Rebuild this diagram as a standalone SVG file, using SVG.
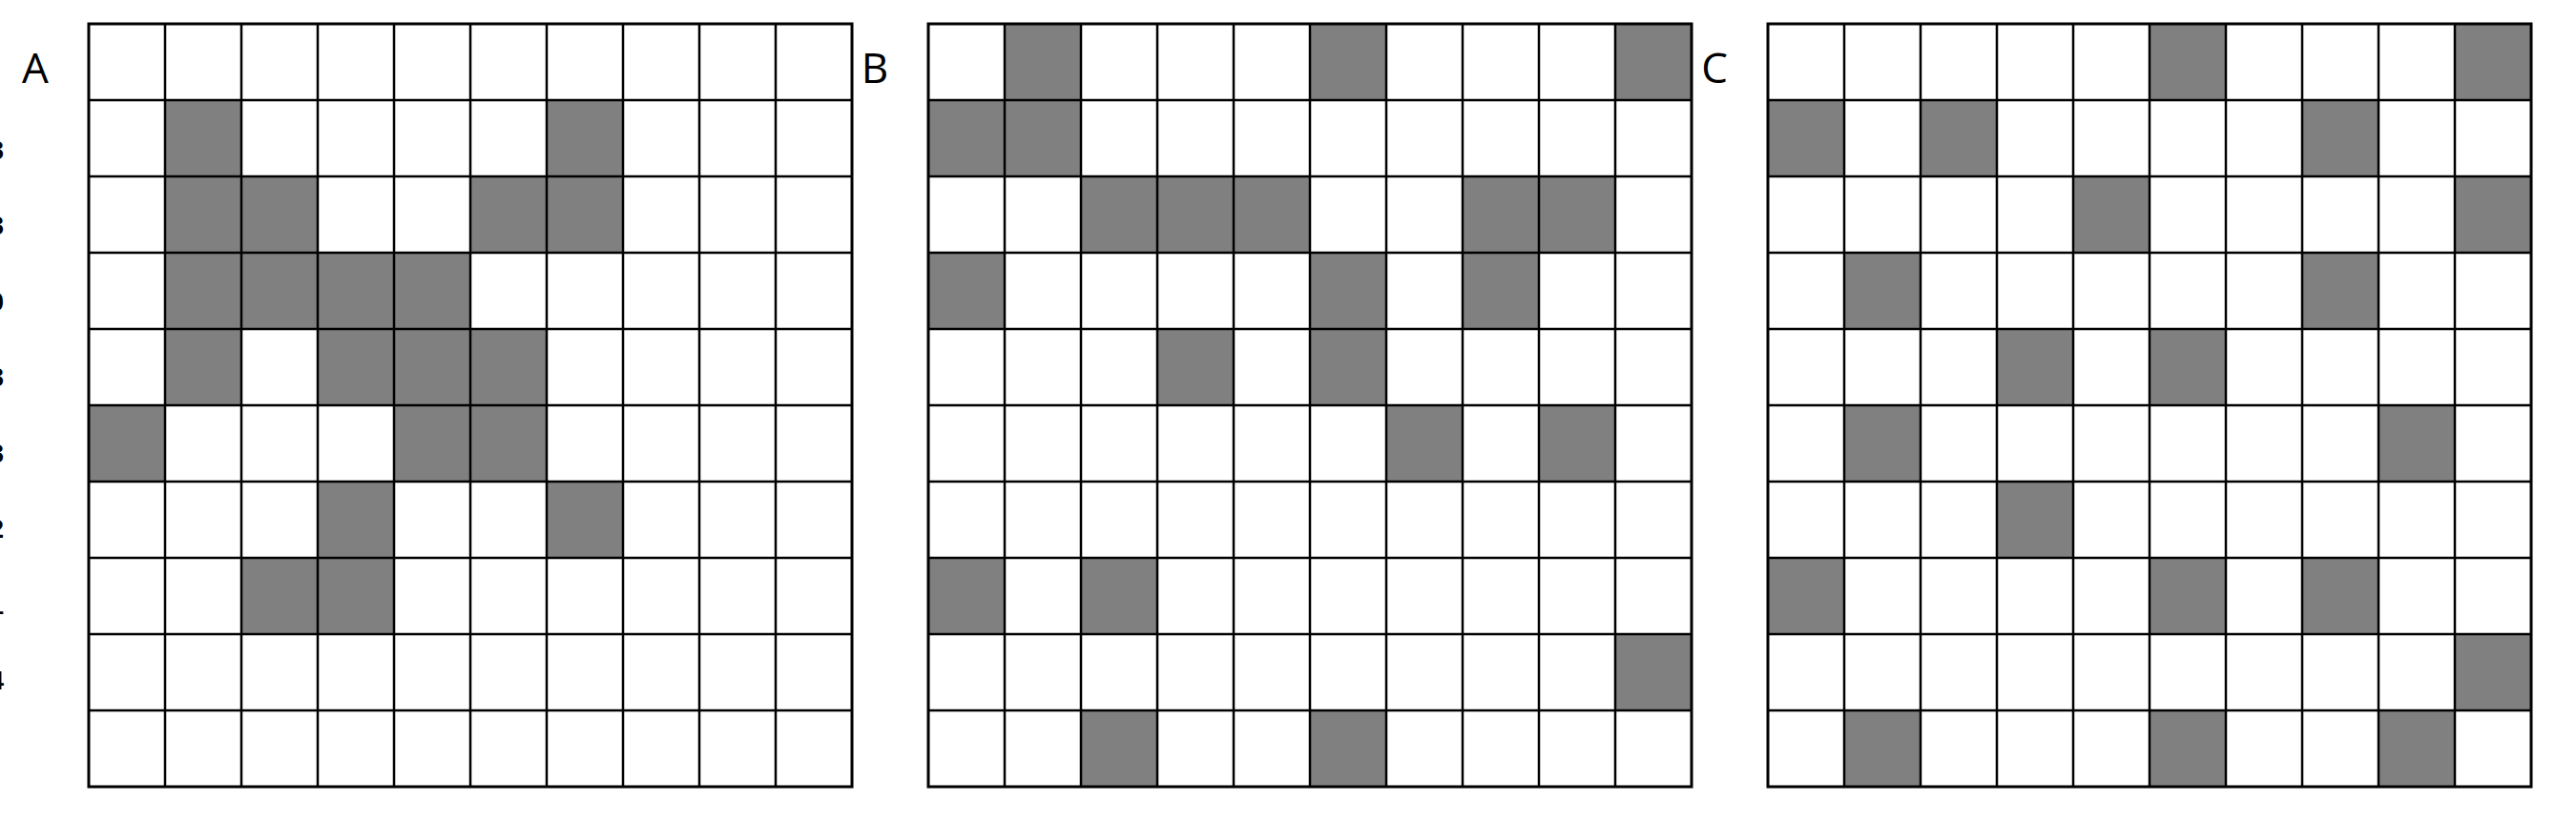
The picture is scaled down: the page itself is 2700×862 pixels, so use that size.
<svg xmlns="http://www.w3.org/2000/svg" width="2700" height="862" viewBox="0 0 2700 862">
<defs>
<style>
.bg{fill:#ffffff}
.on{fill:#808080}
.ln{stroke:#000;stroke-width:2.5;fill:none}
.frame{stroke:#000;stroke-width:3;fill:none}
.lbl{font-family:"Open Sans","Liberation Sans",sans-serif;font-size:44px;fill:#000}
.cut{font-family:"Liberation Sans","Open Sans",sans-serif;font-size:28px;font-weight:bold;fill:#000}
</style>
<path id="lines" class="ln" d="M80 0V800M160 0V800M240 0V800M320 0V800M400 0V800M480 0V800M560 0V800M640 0V800M720 0V800M0 80H800M0 160H800M0 240H800M0 320H800M0 400H800M0 480H800M0 560H800M0 640H800M0 720H800"/>
</defs>
<rect class="bg" x="0" y="0" width="2700" height="862"/>

<g id="cutoff-labels">
<text class="cut" x="4" y="167" text-anchor="end">3</text>
<text class="cut" x="4" y="246" text-anchor="end">3</text>
<text class="cut" x="4" y="326" text-anchor="end">0</text>
<text class="cut" x="4" y="405" text-anchor="end">3</text>
<text class="cut" x="4" y="485" text-anchor="end">3</text>
<text class="cut" x="4" y="564" text-anchor="end">2</text>
<text class="cut" x="4" y="644" text-anchor="end">1</text>
<text class="cut" x="4" y="723" text-anchor="end">4</text>
</g>

<g id="gridA">
<text class="lbl" x="37" y="87" text-anchor="middle">A</text>
<g transform="translate(93,25)">
<rect class="on" x="80" y="80" width="80" height="80"/>
<rect class="on" x="480" y="80" width="80" height="80"/>
<rect class="on" x="80" y="160" width="80" height="80"/>
<rect class="on" x="160" y="160" width="80" height="80"/>
<rect class="on" x="400" y="160" width="80" height="80"/>
<rect class="on" x="480" y="160" width="80" height="80"/>
<rect class="on" x="80" y="240" width="80" height="80"/>
<rect class="on" x="160" y="240" width="80" height="80"/>
<rect class="on" x="240" y="240" width="80" height="80"/>
<rect class="on" x="320" y="240" width="80" height="80"/>
<rect class="on" x="80" y="320" width="80" height="80"/>
<rect class="on" x="240" y="320" width="80" height="80"/>
<rect class="on" x="320" y="320" width="80" height="80"/>
<rect class="on" x="400" y="320" width="80" height="80"/>
<rect class="on" x="0" y="400" width="80" height="80"/>
<rect class="on" x="320" y="400" width="80" height="80"/>
<rect class="on" x="400" y="400" width="80" height="80"/>
<rect class="on" x="240" y="480" width="80" height="80"/>
<rect class="on" x="480" y="480" width="80" height="80"/>
<rect class="on" x="160" y="560" width="80" height="80"/>
<rect class="on" x="240" y="560" width="80" height="80"/>
<use href="#lines"/>
<rect class="frame" x="0" y="0" width="800" height="800"/>
</g>
</g>

<g id="gridB">
<text class="lbl" x="917" y="87" text-anchor="middle">B</text>
<g transform="translate(973,25)">
<rect class="on" x="80" y="0" width="80" height="80"/>
<rect class="on" x="400" y="0" width="80" height="80"/>
<rect class="on" x="720" y="0" width="80" height="80"/>
<rect class="on" x="0" y="80" width="80" height="80"/>
<rect class="on" x="80" y="80" width="80" height="80"/>
<rect class="on" x="160" y="160" width="80" height="80"/>
<rect class="on" x="240" y="160" width="80" height="80"/>
<rect class="on" x="320" y="160" width="80" height="80"/>
<rect class="on" x="560" y="160" width="80" height="80"/>
<rect class="on" x="640" y="160" width="80" height="80"/>
<rect class="on" x="0" y="240" width="80" height="80"/>
<rect class="on" x="400" y="240" width="80" height="80"/>
<rect class="on" x="560" y="240" width="80" height="80"/>
<rect class="on" x="240" y="320" width="80" height="80"/>
<rect class="on" x="400" y="320" width="80" height="80"/>
<rect class="on" x="480" y="400" width="80" height="80"/>
<rect class="on" x="640" y="400" width="80" height="80"/>
<rect class="on" x="0" y="560" width="80" height="80"/>
<rect class="on" x="160" y="560" width="80" height="80"/>
<rect class="on" x="720" y="640" width="80" height="80"/>
<rect class="on" x="160" y="720" width="80" height="80"/>
<rect class="on" x="400" y="720" width="80" height="80"/>
<use href="#lines"/>
<rect class="frame" x="0" y="0" width="800" height="800"/>
</g>
</g>

<g id="gridC">
<text class="lbl" x="1797" y="87" text-anchor="middle">C</text>
<g transform="translate(1853,25)">
<rect class="on" x="400" y="0" width="80" height="80"/>
<rect class="on" x="720" y="0" width="80" height="80"/>
<rect class="on" x="0" y="80" width="80" height="80"/>
<rect class="on" x="160" y="80" width="80" height="80"/>
<rect class="on" x="560" y="80" width="80" height="80"/>
<rect class="on" x="320" y="160" width="80" height="80"/>
<rect class="on" x="720" y="160" width="80" height="80"/>
<rect class="on" x="80" y="240" width="80" height="80"/>
<rect class="on" x="560" y="240" width="80" height="80"/>
<rect class="on" x="240" y="320" width="80" height="80"/>
<rect class="on" x="400" y="320" width="80" height="80"/>
<rect class="on" x="80" y="400" width="80" height="80"/>
<rect class="on" x="640" y="400" width="80" height="80"/>
<rect class="on" x="240" y="480" width="80" height="80"/>
<rect class="on" x="0" y="560" width="80" height="80"/>
<rect class="on" x="400" y="560" width="80" height="80"/>
<rect class="on" x="560" y="560" width="80" height="80"/>
<rect class="on" x="720" y="640" width="80" height="80"/>
<rect class="on" x="80" y="720" width="80" height="80"/>
<rect class="on" x="400" y="720" width="80" height="80"/>
<rect class="on" x="640" y="720" width="80" height="80"/>
<use href="#lines"/>
<rect class="frame" x="0" y="0" width="800" height="800"/>
</g>
</g>
</svg>
